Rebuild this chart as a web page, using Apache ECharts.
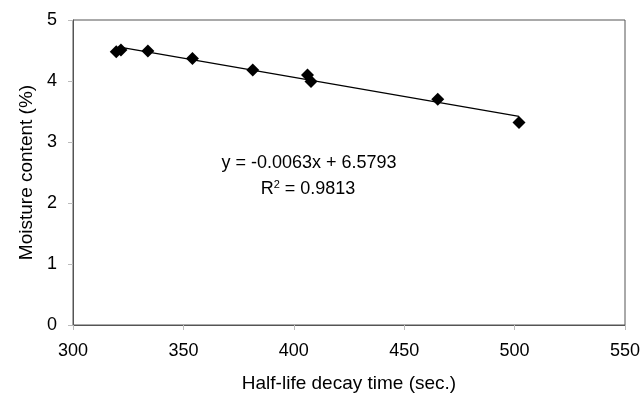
<!DOCTYPE html>
<html>
<head>
<meta charset="utf-8">
<script src="https://cdn.jsdelivr.net/npm/echarts@6/dist/echarts.min.js"></script>
<style>
  html, body { margin: 0; padding: 0; background: #fff; }
  #chart { width: 644px; height: 394px; }
</style>
</head>
<body>
<div id="chart"></div>
<script>
// half-life decay time (sec.) vs moisture content (%)
const decayTime = [319.6, 321.7, 333.9, 354.1, 381.4, 406.2, 407.8, 465.2, 502.0];
const moisture = [4.48, 4.51, 4.49, 4.37, 4.18, 4.10, 3.99, 3.70, 3.32];

// linear trend line end points
const trendX = [320.5, 502.0];
const trendY = [4.56, 3.42];

const equationText = 'y = -0.0063x + 6.5793';
const r2Value = '0.9813';

const font = 'Liberation Sans, Arial, sans-serif';
const axisGray = '#555';

const chart = echarts.init(document.getElementById('chart'));

const option = {
  backgroundColor: '#fff',
  animation: false,
  grid: {
    left: 73, right: 19, top: 20, bottom: 69,
    outerBoundsMode: 'none',
    containLabel: false,
    show: true, borderColor: axisGray, borderWidth: 1
  },
  xAxis: {
    type: 'value',
    min: 300, max: 550, interval: 50,
    name: 'Half-life decay time (sec.)',
    nameLocation: 'middle',
    nameGap: 49,
    nameTextStyle: { color: '#000', fontSize: 19, fontFamily: font },
    axisLine: { show: true, lineStyle: { color: axisGray } },
    axisTick: { show: true, length: 5, lineStyle: { color: '#bbb' } },
    axisLabel: { color: '#000', fontSize: 18, fontFamily: font, margin: 17 },
    splitLine: { show: false }
  },
  yAxis: {
    type: 'value',
    min: 0, max: 5, interval: 1,
    name: 'Moisture content (%)',
    nameLocation: 'middle',
    nameGap: 37,
    nameTextStyle: { color: '#000', fontSize: 19, fontFamily: font },
    axisLine: { show: true, lineStyle: { color: axisGray } },
    axisTick: { show: true, length: 5, lineStyle: { color: '#bbb' } },
    axisLabel: { color: '#000', fontSize: 18, fontFamily: font, margin: 16 },
    splitLine: { show: false }
  },
  graphic: [
    {
      type: 'text',
      x: 309, y: 163,
      style: {
        text: equationText,
        fill: '#000',
        font: '18px ' + font,
        align: 'center',
        verticalAlign: 'middle'
      },
      silent: true
    },
    {
      type: 'text',
      x: 308, y: 189,
      style: {
        text: '{r|R}{sup|2}{r| = ' + r2Value + '}',
        align: 'center',
        verticalAlign: 'middle',
        rich: {
          r: { fontSize: 18, fontFamily: font, color: '#000' },
          sup: { fontSize: 11, fontFamily: font, verticalAlign: 'top', color: '#000', padding: [0, 0, 9, 0] }
        }
      },
      silent: true
    }
  ],
  series: [
    {
      type: 'line',
      data: trendX.map((x, i) => [x, trendY[i]]),
      showSymbol: false,
      lineStyle: { color: '#000', width: 1.2 },
      z: 1
    },
    {
      type: 'scatter',
      data: decayTime.map((x, i) => [x, moisture[i]]),
      symbol: 'diamond',
      symbolSize: [13, 13],
      itemStyle: { color: '#000', opacity: 1 },
      z: 2
    }
  ]
};

chart.setOption(option);
</script>
</body>
</html>
